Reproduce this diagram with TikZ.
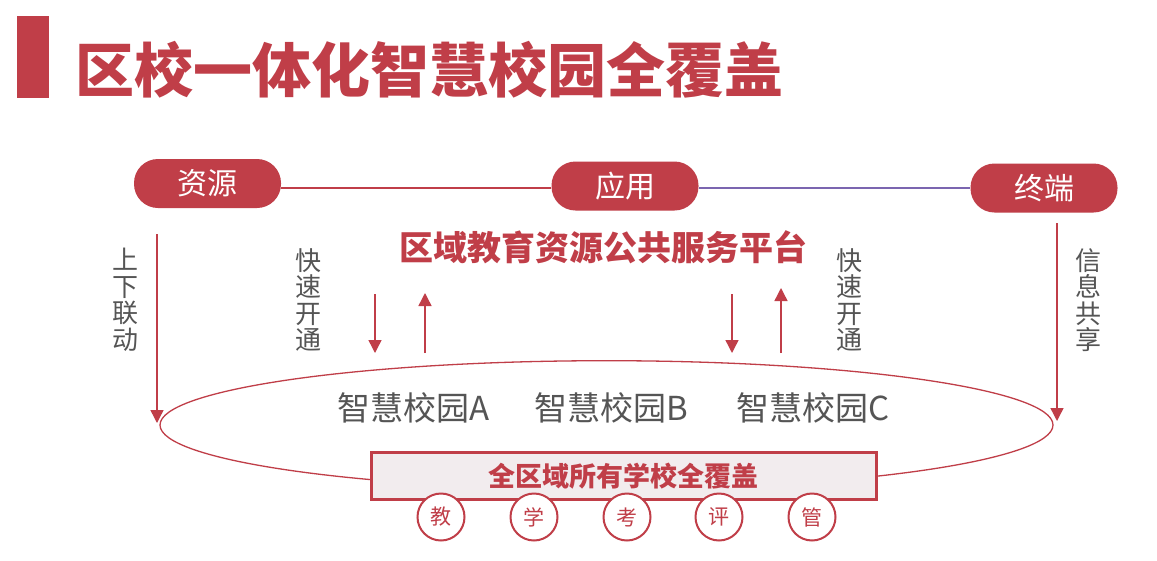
\documentclass[tikz,border=0pt]{standalone}
\usepackage{fontspec}
\setmainfont{Noto Sans CJK SC}
\usetikzlibrary{shapes.geometric,arrows.meta}
\definecolor{bred}{RGB}{192,62,72}
\definecolor{lpurple}{RGB}{123,101,176}
\definecolor{tgray}{RGB}{85,85,85}
\definecolor{boxfill}{RGB}{242,236,238}
\tikzset{
  pill/.style={fill=bred, rounded corners=24pt, minimum width=147pt, minimum height=49pt, inner sep=0pt, text=white, font=\fontsize{30}{30}\selectfont},
  vlabel/.style={text=tgray, align=center, inner sep=0pt, font=\fontsize{26}{26.5}\selectfont},
  school/.style={text=tgray, inner sep=0pt, font=\fontsize{33}{33}\selectfont},
  arr/.style={draw=bred, line width=1.4pt, -{Triangle[width=13pt,length=13pt]}},
  topline/.style={line width=2.2pt},
  ring/.style={ellipse, draw=bred, line width=1.3pt, minimum width=893pt, minimum height=128.6pt, inner sep=0pt},
  allbox/.style={draw=bred, fill=boxfill, line width=3pt, minimum width=505pt, minimum height=47pt, inner sep=0pt, text=bred, font=\bfseries\fontsize{27}{27}\selectfont},
  tagcircle/.style={circle, draw=bred, fill=white, line width=2pt, minimum size=47pt, inner sep=0pt, text=bred, font=\fontsize{21}{21}\selectfont},
}
\begin{document}
\begin{tikzpicture}[x=1pt, y=-1pt]
\useasboundingbox (0,0) rectangle (1157,560);
\fill[white] (0,0) rectangle (1157,560);
% title
\fill[bred] (17,16) rectangle (49,98);
\node[anchor=west, inner sep=0pt, text=bred, font=\bfseries\fontsize{59}{59}\selectfont] (title) at (75,70) {区校一体化智慧校园全覆盖};
% top pills
\node[pill] (ziyuan) at (207.5,183.5) {资源};
\node[pill] (yingyong) at (625,186) {应用};
\node[pill] (zhongduan) at (1044,188) {终端};
\coordinate (lineY) at (0,188);
\draw[topline, bred] (ziyuan.east |- lineY) -- (yingyong.west |- lineY);
\draw[topline, lpurple] (yingyong.east |- lineY) -- (zhongduan.west |- lineY);
% platform title
\node[inner sep=0pt, text=bred, font=\bfseries\fontsize{34}{34}\selectfont] (platform) at (603,247) {区域教育资源公共服务平台};
% ellipse
\node[ring] (ring) at (606.5,425) {};
% side labels
\node[vlabel] (lab1) at (125,300) {上\\下\\联\\动};
\node[vlabel] (lab2) at (308,300) {快\\速\\开\\通};
\node[vlabel] (lab3) at (849.5,300) {快\\速\\开\\通};
\node[vlabel] (lab4) at (1088,300) {信\\息\\共\\享};
% long arrows
\coordinate (l1s) at (157,234);
\coordinate (l1e) at (157,423);
\coordinate (r1s) at (1057,223);
\coordinate (r1e) at (1057,421);
\draw[arr] (l1s) -- (l1e);
\draw[arr] (r1s) -- (r1e);
% short arrows
\coordinate (a1s) at (375,294);
\coordinate (a1e) at (375,353);
\coordinate (a2s) at (425,353);
\coordinate (a2e) at (425,293);
\coordinate (a3s) at (732,294);
\coordinate (a3e) at (732,353);
\coordinate (a4s) at (781,353);
\coordinate (a4e) at (781,288);
\draw[arr] (a1s) -- (a1e);
\draw[arr] (a2s) -- (a2e);
\draw[arr] (a3s) -- (a3e);
\draw[arr] (a4s) -- (a4e);
% schools
\node[school] (sa) at (414,408) {智慧校园A};
\node[school] (sb) at (611,408) {智慧校园B};
\node[school] (sc) at (813,408) {智慧校园C};
% box
\node[allbox] (all) at (623.5,476) {全区域所有学校全覆盖};
% circles
\node[tagcircle] (c1) at (441,517) {教};
\node[tagcircle] (c2) at (534,517) {学};
\node[tagcircle] (c3) at (627,517) {考};
\node[tagcircle] (c4) at (719,517) {评};
\node[tagcircle] (c5) at (812,517) {管};
\end{tikzpicture}
\end{document}
